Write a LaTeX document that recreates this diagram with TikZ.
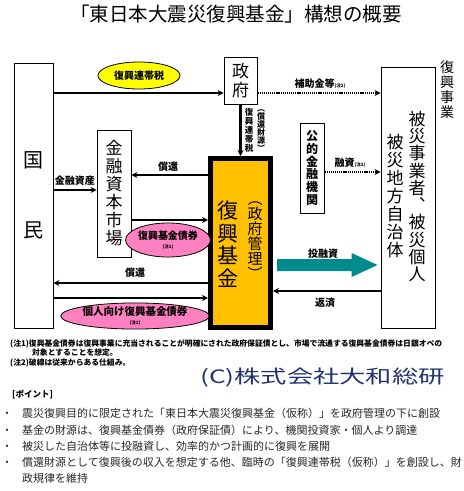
\documentclass[tikz,border=0pt]{standalone}
\usepackage{fontspec}
\setmainfont{Noto Sans CJK JP}
\newfontfamily\widejp{Noto Sans CJK JP}[FakeStretch=1.42]
\usepackage{xcolor}
\usetikzlibrary{arrows.meta,calc,shapes.geometric}
\definecolor{FundGold}{RGB}{255,192,0}
\definecolor{TaxYellow}{RGB}{255,255,0}
\definecolor{BondPink}{RGB}{255,128,192}
\definecolor{FlowTeal}{RGB}{0,140,140}
\definecolor{DaiwaNavy}{RGB}{32,48,112}
\definecolor{NoteGray}{RGB}{40,40,40}

\begin{document}
\begin{tikzpicture}[x=1pt,y=-1pt,
    box/.style={draw,line width=0.9pt,inner sep=0pt,align=center},
    tate/.style={inner sep=0pt,align=center},
    flow/.style={line width=2.4pt,-{Stealth[length=6pt,width=6pt]}},
    oldflow/.style={line width=2.4pt,dash pattern=on 1.2pt off 0.9pt,-{Stealth[length=6pt,width=6pt]}},
    lbl/.style={font=\bfseries\fontsize{10}{10}\selectfont,inner sep=0pt},
    bond/.style={draw,line width=0.8pt,ellipse,fill=BondPink,inner sep=0pt,align=center,
      font=\bfseries\fontsize{10}{10}\selectfont},
    pt/.style={anchor=west,inner sep=0pt,font=\fontsize{11}{13}\selectfont,text=NoteGray},
    note/.style={anchor=west,inner sep=0pt,font=\bfseries\fontsize{7.8}{9}\selectfont}]
  \fill[white] (0,0) rectangle (464,491);
  \useasboundingbox (0,0) rectangle (464,491);
  % title
  \node[font=\fontsize{19.5}{20}\selectfont,inner sep=0pt] (title) at (236,14)
    {「東日本大震災復興基金」構想の概要};

  % boxes
  \node[box,minimum width=39,minimum height=265,font=\fontsize{20}{70}\selectfont]
    (kokumin) at (33.5,195.5) {国\\民};
  \node[box,minimum width=33,minimum height=47,font=\fontsize{17}{19}\selectfont]
    (seifu) at (240.5,80.5) {政\\府};
  \node[box,minimum width=34,minimum height=127,font=\fontsize{17}{18}\selectfont]
    (shijo) at (114,193.5) {金\\融\\資\\本\\市\\場};
  \node[draw,line width=5pt,fill=FundGold,minimum width=60,minimum height=169]
    (kikin) at (240.5,243) {};
  \node[tate,font=\fontsize{21}{22.5}\selectfont] (kikinname) at (228,244) {復\\興\\基\\金};
  \node[tate,font=\fontsize{15}{15}\selectfont] (kanri) at (255,241) {︵\\政\\府\\管\\理\\︶};
  \node[box,minimum width=54,minimum height=261] (hisai) at (408,197.5) {};
  \node[tate,font=\fontsize{17}{17.3}\selectfont] (kojin) at (417,196.5)
    {被\\災\\事\\業\\者\\︑\\被\\災\\個\\人};
  \node[tate,font=\fontsize{17}{18}\selectfont] (jichitai) at (395,196.5)
    {被\\災\\地\\方\\自\\治\\体};
  \node[box,minimum width=24,minimum height=90,font=\bfseries\fontsize{12}{12.8}\selectfont]
    (koteki) at (312,168) {公\\的\\金\\融\\機\\関};
  \node[tate,font=\fontsize{14}{15}\selectfont] (jigyo) at (447,90) {復\\興\\事\\業};

  % rows for the connectors
  \coordinate (r93) at (0,93);
  \coordinate (r172) at (0,172);
  \coordinate (r175) at (0,175);
  \coordinate (r190) at (0,190);
  \coordinate (r220) at (0,220);
  \coordinate (r265) at (0,265);
  \coordinate (r283) at (0,283);
  \coordinate (r291) at (0,291);
  \coordinate (r298) at (0,298);

  % tax and subsidies
  \draw[flow] (kokumin.east |- r93) -- (seifu.west |- r93);
  \node[draw,ellipse,fill=TaxYellow,line width=0.8pt,minimum width=82,minimum height=27,
    inner sep=0pt,font=\bfseries\fontsize{10}{10}\selectfont] (zei) at (139,75.5) {復興連帯税};
  \draw[oldflow] (seifu.east |- r93) -- (hisai.west |- r93);
  \node[lbl] (hojo) at (320,84) {補助金等{\fontsize{4.5}{5}\selectfont(注2)}};
  \draw[flow] (seifu) -- (kikin);
  \node[tate,font=\bfseries\fontsize{8.5}{9}\selectfont] (rentai) at (249,130.5)
    {復\\興\\連\\帯\\税};
  \node[tate,font=\bfseries\fontsize{8}{8}\selectfont] (zaigen) at (261,131)
    {︵\\償\\還\\財\\源\\︶};

  % market side
  \draw[flow] (kikin.west |- r175) -- (shijo.east |- r175);
  \node[lbl] (shokan1) at (168,167) {償還};
  \draw[flow] (shijo.east |- r220) -- (kikin.west |- r220);
  \draw[flow] (kokumin.east |- r190) -- (shijo.west |- r190);
  \node[lbl] (shisan) at (75,181) {金融資産};
  \node[bond,minimum width=73,minimum height=34] (saiken) at (168,240)
    {復興基金債券\\[-1pt]{\fontsize{4.5}{5}\selectfont(注1)}};

  % retail side
  \draw[flow] (kikin.west |- r283) -- (kokumin.east |- r283);
  \node[lbl] (shokan2) at (135,273) {償還};
  \draw[flow] (kokumin.east |- r298) -- (kikin.west |- r298);
  \node[bond,minimum width=127,minimum height=26,font=\bfseries\fontsize{10.5}{10.5}\selectfont]
    (kojinsai) at (135,316) {個人向け復興基金債券\\[-2pt]{\fontsize{4.5}{5}\selectfont(注1)}};

  % investment and repayment
  \coordinate (ta) at ($(kikin.east |- r265)+(4,0)$);
  \coordinate (tb) at ($(hisai.west |- r265)+(-3,0)$);
  \fill[FlowTeal] ($(ta)+(0,-6)$) -- ($(tb)+(-26,-6)$) -- ($(tb)+(-26,-12)$) -- (tb)
    -- ($(tb)+(-26,12)$) -- ($(tb)+(-26,6)$) -- ($(ta)+(0,6)$) -- cycle;
  \node[lbl] (toyushi) at (323,254) {投融資};
  \draw[flow] (hisai.west |- r291) -- (kikin.east |- r291);
  \node[lbl] (hensai) at (325,303) {返済};
  \draw[oldflow] (koteki.east |- r172) -- (hisai.west |- r172);
  \node[lbl] (yushi) at (350,163) {融資{\fontsize{4.5}{5}\selectfont(注2)}};

  % notes
  \node[note] (note1) at (10,344)
    {(注1)復興基金債券は復興事業に充当されることが明確にされた政府保証債とし、市場で流通する復興基金債券は日銀オペの};
  \node[note] (note1b) at (32,353) {対象とすることを想定。};
  \node[note] (note2) at (10,363) {(注2)破線は従来からある仕組み。};
  \node[anchor=east,inner sep=0pt,font=\widejp\fontsize{18.5}{20}\selectfont,text=DaiwaNavy]
    (daiwa) at (445,378) {(C)株式会社大和総研};

  % points
  \node[anchor=west,inner sep=0pt,font=\bfseries\fontsize{8.5}{9}\selectfont] (point) at (12,395) {[ポイント]};
  \node[pt] (pt1) at (1.5,413) {・\hspace{9.5pt}震災復興目的に限定された「東日本大震災復興基金（仮称）」を政府管理の下に創設};
  \node[pt] (pt2) at (1.5,430) {・\hspace{9.5pt}基金の財源は、復興基金債券（政府保証債）により、機関投資家・個人より調達};
  \node[pt] (pt3) at (1.5,446) {・\hspace{9.5pt}被災した自治体等に投融資し、効率的かつ計画的に復興を展開};
  \node[pt] (pt4) at (1.5,462) {・\hspace{9.5pt}償還財源として復興後の収入を想定する他、臨時の「復興連帯税（仮称）」を創設し、財};
  \node[pt] (pt4b) at (22,478) {政規律を維持};
\end{tikzpicture}
\end{document}
